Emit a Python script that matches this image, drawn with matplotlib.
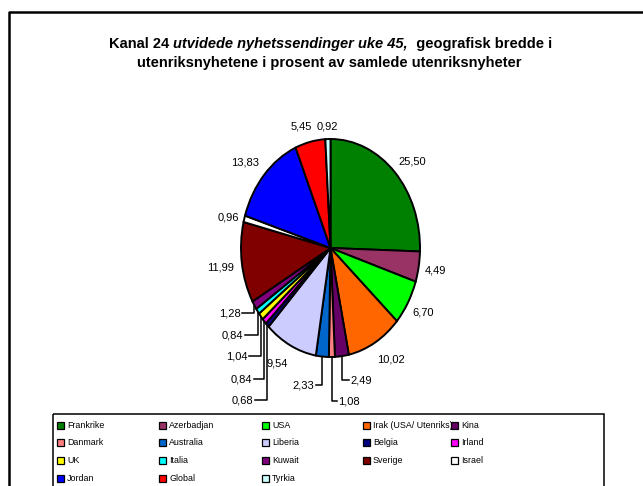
import matplotlib
matplotlib.use('Agg')
import matplotlib.pyplot as plt
from matplotlib.patches import Rectangle
from matplotlib import font_manager
import numpy as np

plt.rcParams['font.family'] = ['Liberation Sans', 'DejaVu Sans']

# data, clockwise from 12 o'clock
countries = ['Frankrike', 'Azerbadjan', 'USA', 'Irak (USA/ Utenriks)', 'Kina',
             'Danmark', 'Australia', 'Liberia', 'Belgia', 'Irland',
             'UK', 'Italia', 'Kuwait', 'Sverige', 'Israel',
             'Jordan', 'Global', 'Tyrkia']
shares = [25.50, 4.49, 6.70, 10.02, 2.49, 1.08, 2.33, 9.54, 0.68, 0.84,
          1.04, 0.84, 1.28, 11.99, 0.96, 13.83, 5.45, 0.92]
colors = ['#008000', '#993366', '#00FF00', '#FF6600', '#660066',
          '#FF8080', '#0066CC', '#CCCCFF', '#000080', '#FF00FF',
          '#FFFF00', '#00FFFF', '#800080', '#800000', '#FFFFFF',
          '#0000FF', '#FF0000', '#CCFFFF']

# label placement (pixels); leader=True means the point is where the leader line ends
label_pos = [(412, 161), (435, 270), (423, 312), (391, 359), (349, 380),
             (337, 401), (316, 385), (277, 363), (255, 400), (254, 379),
             (249, 356), (245, 335), (242, 313), (221, 267), (228, 217),
             (245, 162), (301, 126), (327, 126)]
leader = [False, False, False, False, True, True, True, False, True, True,
          True, True, True, False, False, False, False, False]

# legend font: a narrow face if there is one
names = {f.name for f in font_manager.fontManager.ttflist}
if 'Liberation Sans Narrow' in names:
    leg_font, leg_size = ['Liberation Sans Narrow'], 8
else:
    leg_font, leg_size = ['Liberation Sans'], 6.4

W, H = 643, 486
fig = plt.figure(figsize=(W / 100, H / 100), dpi=100)

# background axes in pixel coordinates
bg = fig.add_axes([0, 0, 1, 1], zorder=0)
bg.set_xlim(0, W)
bg.set_ylim(H, 0)
bg.axis('off')

# pie (elliptical, like the Excel original)
cx, cy, rx, ry = 330.5, 248, 89.5, 109
ax = fig.add_axes([(cx - rx) / W, 1 - (cy + ry) / H, 2 * rx / W, 2 * ry / H], zorder=1)
wedges, _ = ax.pie(shares, colors=colors, startangle=90, counterclock=False,
                   wedgeprops=dict(edgecolor='black', linewidth=1.4))
for w in wedges:
    w.set_clip_on(False)
ax.set_aspect('auto')
ax.set_xlim(-1, 1)
ax.set_ylim(-1, 1)
ax.axis('off')

to_px = bg.transData.inverted()
for w, val, (lx, ly), has_line in zip(wedges, shares, label_pos, leader):
    txt = ('%.2f' % val).replace('.', ',')
    if has_line:
        t = np.deg2rad((w.theta1 + w.theta2) / 2)
        ex, ey = to_px.transform(ax.transData.transform((np.cos(t), np.sin(t))))
        bg.plot([ex, ex, lx], [ey, ly, ly], color='black', lw=1.1, clip_on=False)
        if lx > ex:
            bg.text(lx + 1.5, ly, txt, ha='left', va='center', fontsize=8)
        else:
            bg.text(lx - 1.5, ly, txt, ha='right', va='center', fontsize=8)
    else:
        bg.text(lx, ly, txt, ha='center', va='center', fontsize=8)

# title: first line mixes bold and bold italic
renderer = fig.canvas.get_renderer()
parts = [('Kanal 24 ', 'normal'), ('utvidede nyhetssendinger uke 45,', 'italic'),
         ('  geografisk bredde i', 'normal')]
texts = [bg.text(0, 44, s, fontsize=10.5, fontweight='bold', style=st,
                 ha='left', va='center') for s, st in parts]
widths = [to_px.transform(t.get_window_extent(renderer))[:, 0] for t in texts]
widths = [b[1] - b[0] for b in widths]
x = 330.5 - sum(widths) / 2
for t, wd in zip(texts, widths):
    t.set_x(x)
    x += wd
bg.text(329, 63, 'utenriksnyhetene i prosent av samlede utenriksnyheter',
        fontsize=10.5, fontweight='bold', ha='center', va='center')

# chart border (only top and left visible)
bg.plot([9, 9, W + 5], [H + 5, 12, 12], color='black', lw=1.8, clip_on=False)

# legend box
bg.add_patch(Rectangle((53, 414), 551, 100, fill=False, edgecolor='black', lw=1.1, clip_on=False))
col_x = [57, 159, 262, 363, 451]
for i, (name, c) in enumerate(zip(countries, colors)):
    x0 = col_x[i % 5]
    y0 = 425 + 17.7 * (i // 5)
    bg.add_patch(Rectangle((x0, y0 - 3.5), 7, 7, facecolor=c, edgecolor='black', lw=0.9))
    bg.text(x0 + 10, y0, name, fontsize=leg_size, family=leg_font, ha='left', va='center')

fig.savefig('out.png', dpi=100)
